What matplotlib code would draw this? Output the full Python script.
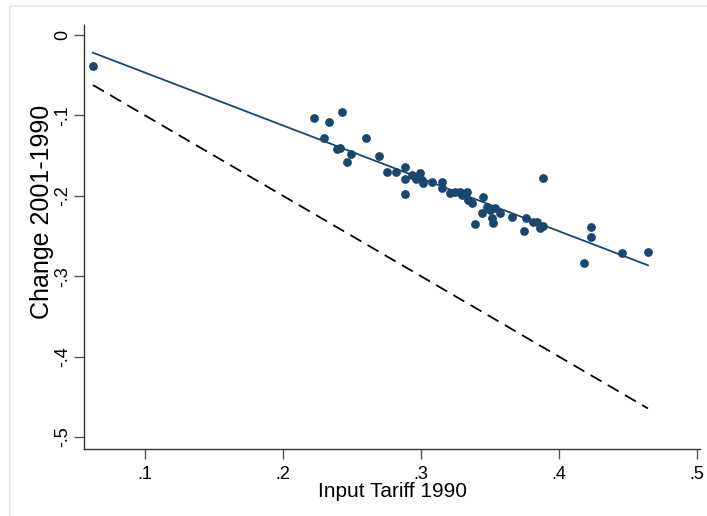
import numpy as np
import matplotlib
matplotlib.use("Agg")
import matplotlib.pyplot as plt
from matplotlib import font_manager
from matplotlib.patches import Rectangle

# Input tariff in 1990 vs. change 2001-1990
tariff_1990 = [0.0623, 0.2225, 0.2333, 0.2428, 0.2297, 0.2601, 0.2391, 0.2413,
               0.2493, 0.2464, 0.2696, 0.2754, 0.2819, 0.2884, 0.2884, 0.2884,
               0.2935, 0.2964, 0.2993, 0.3007, 0.3014, 0.3080, 0.3152, 0.3152,
               0.3210, 0.3246, 0.3283, 0.3297, 0.3333, 0.3341, 0.3370, 0.3449,
               0.3442, 0.3478, 0.3500, 0.3536, 0.3572, 0.3514, 0.3522, 0.3391,
               0.3659, 0.3746, 0.3761, 0.3812, 0.3841, 0.3862, 0.3884, 0.3884,
               0.4181, 0.4232, 0.4232, 0.4457, 0.4645]
change_2001 = [-0.0386, -0.1032, -0.1082, -0.0958, -0.1281, -0.1281, -0.1418, -0.1405,
               -0.1480, -0.1580, -0.1505, -0.1704, -0.1704, -0.1642, -0.1791, -0.1978,
               -0.1741, -0.1791, -0.1716, -0.1803, -0.1841, -0.1828, -0.1828, -0.1903,
               -0.1965, -0.1953, -0.1953, -0.1990, -0.1953, -0.2052, -0.2090, -0.2015,
               -0.2214, -0.2139, -0.2177, -0.2152, -0.2214, -0.2276, -0.2338, -0.2351,
               -0.2264, -0.2438, -0.2276, -0.2326, -0.2326, -0.2400, -0.2376, -0.1779,
               -0.2836, -0.2388, -0.2512, -0.2711, -0.2699]

x_ticks = [0.1, 0.2, 0.3, 0.4, 0.5]
x_tick_labels = [".1", ".2", ".3", ".4", ".5"]
y_ticks = [0, -0.1, -0.2, -0.3, -0.4, -0.5]
y_tick_labels = ["0", "-.1", "-.2", "-.3", "-.4", "-.5"]

navy = "#1a476f"

# pick a narrow Arial-like face if there is one
names = {f.name for f in font_manager.fontManager.ttflist}
family = "Liberation Sans Narrow" if "Liberation Sans Narrow" in names else "Liberation Sans"
plt.rcParams["font.family"] = [family, "DejaVu Sans"]

fig = plt.figure(figsize=(7.07, 5.16), dpi=100)
fig.patches.append(Rectangle((10 / 707, -0.1), 1.2, 1.1 - 6 / 516,
                             transform=fig.transFigure, fill=False,
                             edgecolor="#e4eaee", lw=1.2))
ax = fig.add_axes([84 / 707, 67 / 516, 616 / 707, 424 / 516])

x = np.array(tariff_1990)
y = np.array(change_2001)

# linear fit over the range of the data, and the 45 degree line y = -x
slope, intercept = np.polyfit(x, y, 1)
xs = np.array([x.min(), x.max()])
ax.plot(xs, -xs, color="black", lw=1.3, linestyle=(0, (7, 4)), zorder=1)
ax.plot(xs, intercept + slope * xs, color=navy, lw=1.3, zorder=2)
ax.scatter(x, y, s=40, color=navy, linewidths=0, zorder=3)

ax.set_xlim(0.0558, 0.5022)
ax.set_ylim(-0.5149, 0.0124)

ax.set_xticks(x_ticks)
ax.set_xticklabels(x_tick_labels, fontsize=13)
ax.set_yticks(y_ticks)
ax.set_yticklabels(y_tick_labels, fontsize=13, rotation=90, va="center")

ax.tick_params(length=7, width=1, color="#555555")
ax.tick_params(axis="x", pad=5)
ax.tick_params(axis="y", pad=2)
for side in ["top", "right"]:
    ax.spines[side].set_visible(False)
for side in ["left", "bottom"]:
    ax.spines[side].set_color("#333333")
    ax.spines[side].set_linewidth(1)

ax.set_xlabel("Input Tariff 1990", fontsize=15)
ax.set_ylabel("Change 2001-1990", fontsize=18)
ax.xaxis.set_label_coords(0.5016, -0.079)
ax.yaxis.set_label_coords(-0.049, 0.559)

fig.savefig("out.png", dpi=100)
